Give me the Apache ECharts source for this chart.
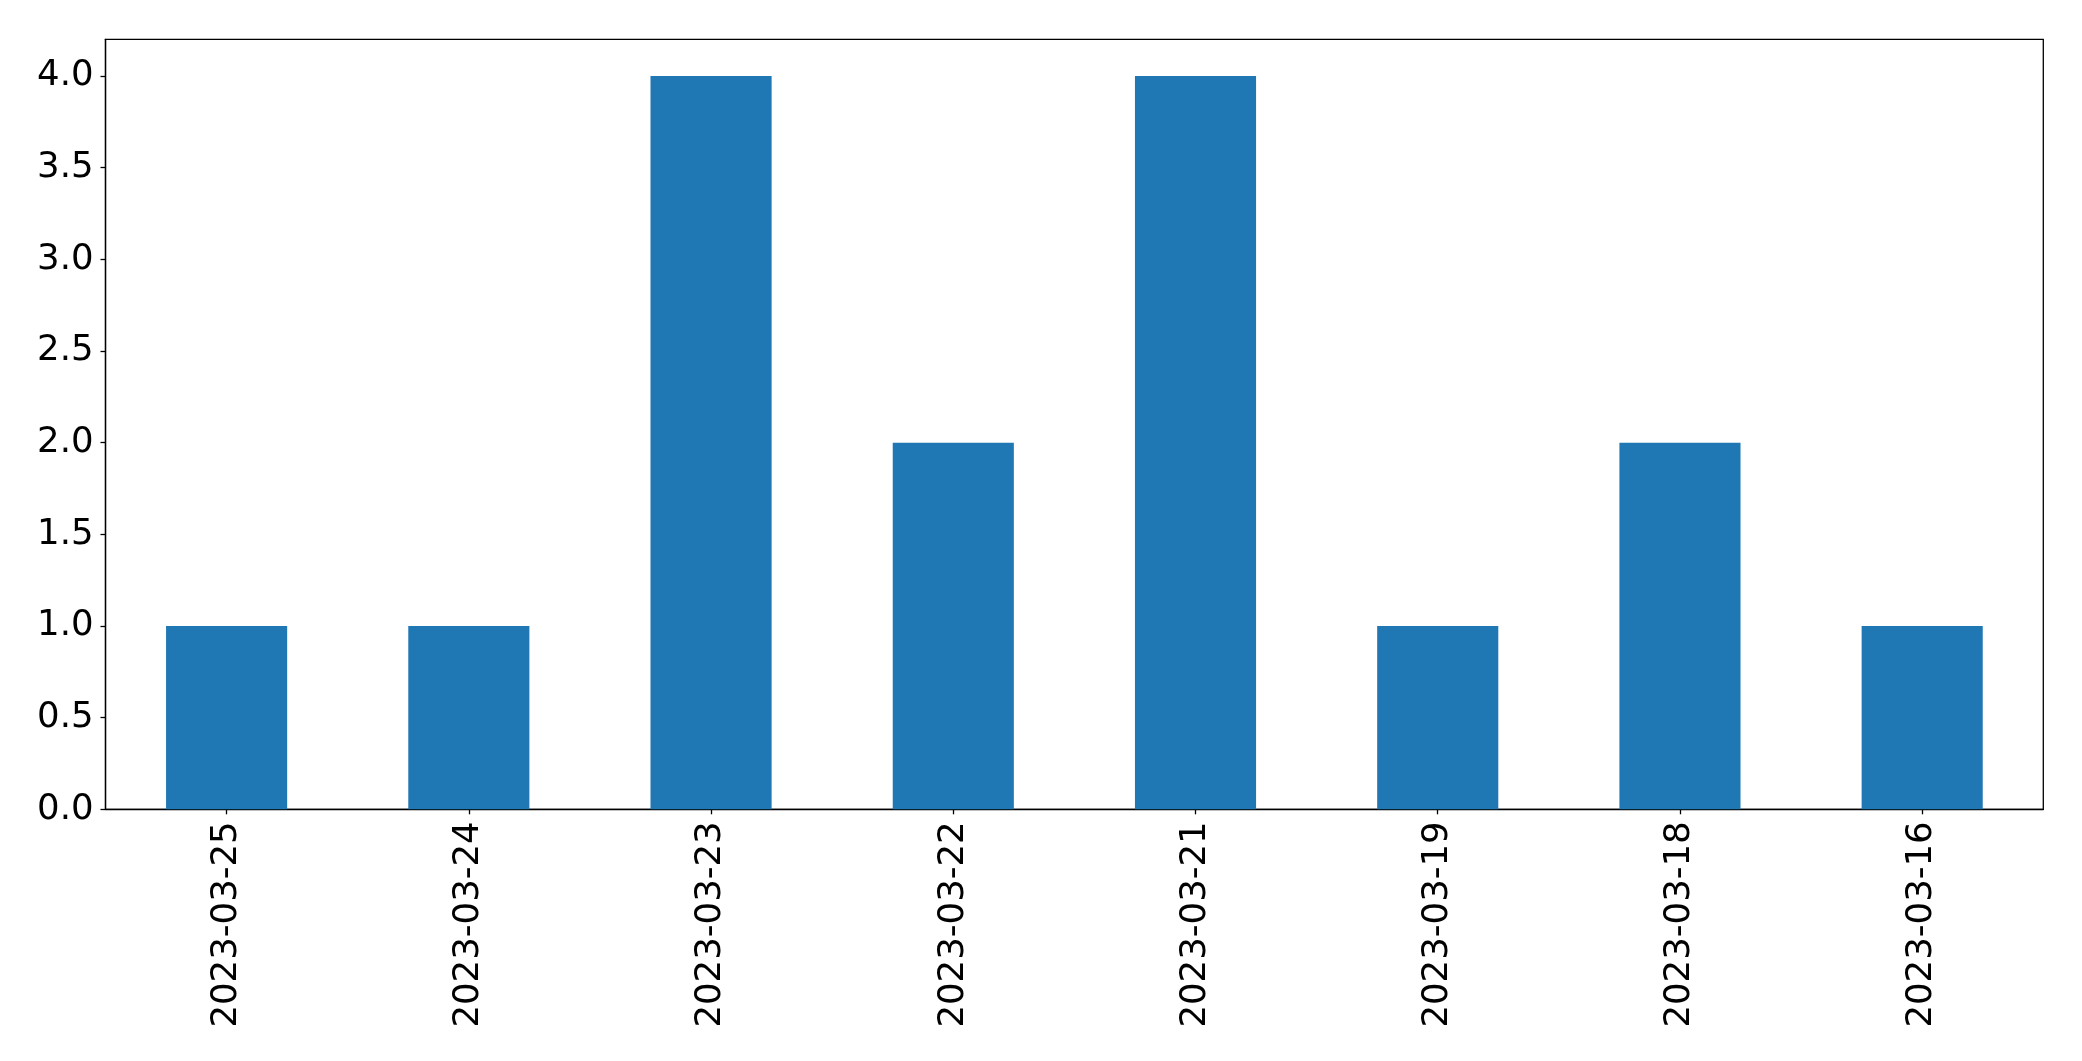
<!DOCTYPE html>
<html>
<head>
<meta charset="utf-8">
<script src="https://cdn.jsdelivr.net/npm/echarts@6/dist/echarts.min.js"></script>
<style>html,body{margin:0;padding:0;background:#fff;}#c{width:2082px;height:1061px;}</style>
</head>
<body>
<div id="c"></div>
<script>
const categories = ['2023-03-25','2023-03-24','2023-03-23','2023-03-22','2023-03-21','2023-03-19','2023-03-18','2023-03-16'];
const values = [1, 1, 4, 2, 4, 1, 2, 1];
const yTicks = [0, 0.5, 1, 1.5, 2, 2.5, 3, 3.5, 4];

const chart = echarts.init(document.getElementById('c'), null, {renderer: 'canvas'});
const font = 'DejaVu Sans';
chart.setOption({
  animation: false,
  backgroundColor: '#fff',
  grid: {left: 105.5, right: 38.7, top: 39.3, bottom: 251.7, show: true, borderColor: '#000', borderWidth: 1.3, containLabel: false},
  xAxis: {
    type: 'category',
    data: categories,
    boundaryGap: true,
    axisLine: {show: true, lineStyle: {color: '#000', width: 1.3}},
    axisTick: {show: true, alignWithLabel: true, length: 5, lineStyle: {color: '#000', width: 1.3}},
    axisLabel: {rotate: 90, margin: 12, color: '#000', fontFamily: font, fontSize: 35.5, interval: 0},
    splitLine: {show: false}
  },
  yAxis: {
    type: 'value',
    min: 0, max: 4.2, interval: 0.5,
    axisLine: {show: true, lineStyle: {color: '#000', width: 1.3}},
    axisTick: {show: true, length: 5, lineStyle: {color: '#000', width: 1.3}, customValues: yTicks},
    axisLabel: {margin: 12, padding: [5, 0, 0, 0], color: '#000', fontFamily: font, fontSize: 35.5, customValues: yTicks, formatter: v => v.toFixed(1)},
    splitLine: {show: false}
  },
  series: [{
    type: 'bar',
    data: values,
    barWidth: '50%',
    itemStyle: {color: '#1f77b4'}
  }]
});
</script>
</body>
</html>
